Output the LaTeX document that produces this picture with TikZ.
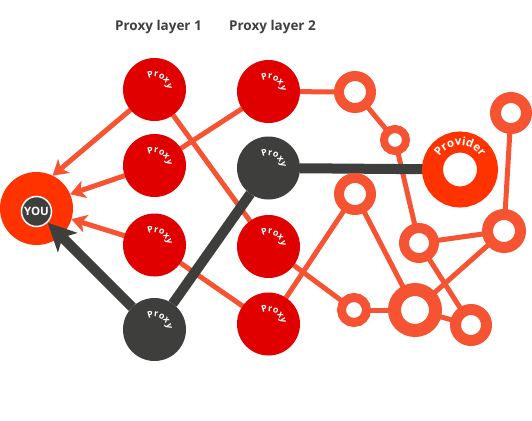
\documentclass[tikz,border=0pt]{standalone}
\usepackage{fontspec}
\setmainfont{Open Sans}
\usetikzlibrary{arrows.meta,decorations.text}
\definecolor{proxyred}{RGB}{224,0,0}
\definecolor{darkc}{RGB}{62,62,60}
\definecolor{linec}{RGB}{245,83,50}
\definecolor{hot}{RGB}{255,51,0}
\definecolor{titlec}{RGB}{64,64,64}
\pgfdeclarelayer{bg}
\pgfsetlayers{bg,main}
\tikzset{
  proxy/.style={circle, fill=proxyred, minimum size=63pt, inner sep=0pt, outer sep=0pt},
  dproxy/.style={proxy, fill=darkc},
  ring/.style 2 args={circle, draw=linec, fill=white, line width=#1, minimum size=#2, inner sep=0pt, outer sep=0pt},
  link/.style={draw=linec, line width=5pt},
  oarrow/.style={link, -{Stealth[length=15pt,width=18pt,inset=4pt]}},
  darkline/.style={draw=darkc, line width=10pt},
  darrow/.style={darkline, -{Stealth[length=28pt,width=27pt,inset=7pt]}},
  title/.style={anchor=base, text=titlec, font=\bfseries\fontsize{13.5}{14}\selectfont},
}
\newcommand\proxylabel[1]{\path[decorate,decoration={text along path,text align=center,text={|\color{white}\bfseries\fontsize{9}{9}\selectfont|Proxy}}] ([shift={(150:12.5pt)}]#1.center) arc[start angle=150,end angle=-30,radius=12.5pt];}
\begin{document}
\begin{tikzpicture}[x=1pt,y=1pt]
\begin{pgfonlayer}{bg}
\fill[white] (0,0) rectangle (532,-420);
\end{pgfonlayer}
\useasboundingbox (0,0) rectangle (532,-420);

% titles
\node[title] (t1) at (158.5,-31) {Proxy layer 1};
\node[title] (t2) at (272.5,-31) {Proxy layer 2};

% proxies
\node[proxy]  (L1a) at (154.5,-89.5) {};
\node[proxy]  (L1b) at (154.5,-165.5) {};
\node[proxy]  (L1c) at (154.5,-245) {};
\node[dproxy] (L1d) at (154.5,-329.5) {};
\node[proxy]  (L2a) at (268.5,-91.5) {};
\node[dproxy] (L2b) at (268.5,-168) {};
\node[proxy]  (L2c) at (268.5,-246.5) {};
\node[proxy]  (L2d) at (268.5,-324) {};

% you
\node[circle, fill=hot, minimum size=73pt, inner sep=0pt, outer sep=0pt] (you) at (36.5,-208.5) {};

% rings
\node[ring={10pt}{32pt}] (R1) at (355,-92) {};
\node[ring={8pt}{22pt}]  (R2) at (395,-140) {};
\node[ring={11pt}{31pt}] (R3) at (511,-113) {};
\node[ring={10pt}{32pt}] (R4) at (355,-194) {};
\node[ring={10pt}{30pt}] (R5) at (419,-243) {};
\node[ring={11pt}{33pt}] (R6) at (504,-231) {};
\node[ring={9pt}{25pt}]  (R7) at (354,-310) {};
\node[ring={13pt}{41pt}] (R8) at (415,-310) {};
\node[ring={11pt}{31pt}] (R9) at (471,-325) {};

% provider
\node[ring={21pt}{55pt}, draw=hot] (prov) at (460,-169.5) {};

\begin{pgfonlayer}{bg}
\draw[link] (L1a) -- (L2c);
\draw[link] (L2a) -- (L1b);
\draw[link] (L1c) -- (L2d);
\draw[link] (L2a) -- (R1);
\draw[link] (R1) -- (R2);
\draw[link] (R2) -- (R5);
\draw[link] (R3) -- (R6);
\draw[link] (R5) -- (R6);
\draw[link] (R5) -- (R9);
\draw[link] (R6) -- (R8);
\draw[link] (R4) -- (L2d);
\draw[link] (R4) -- (R8);
\draw[link] (L2c) -- (R7);
\draw[link] (R7) -- (R8);
\draw[link] (R8) -- (R9);
\draw[oarrow] (L1a) -- (you.64);
\draw[oarrow] (L1b) -- (you.23);
\draw[oarrow] (L1c) -- (you.-17);
\draw[darkline] (L1d) -- (L2b);
\draw[darkline] (L2b) -- (prov);
\end{pgfonlayer}

\node[circle, fill=darkc, draw=white, line width=1.5pt, minimum size=30pt, inner sep=0pt, text=white, font=\bfseries\fontsize{11.5}{11.5}\selectfont] (youin) at (36.5,-211.5) {YOU};
\draw[darrow] (L1d) -- (youin);

% labels
\proxylabel{L1a}
\proxylabel{L1b}
\proxylabel{L1c}
\proxylabel{L1d}
\proxylabel{L2a}
\proxylabel{L2b}
\proxylabel{L2c}
\proxylabel{L2d}
\path[decorate,decoration={text along path,text align=center,text={|\color{white}\bfseries\fontsize{11.5}{11.5}\selectfont|Provider}}] ([shift={(170:24pt)}]prov.center) arc[start angle=170,end angle=10,radius=24pt];
\end{tikzpicture}
\end{document}
